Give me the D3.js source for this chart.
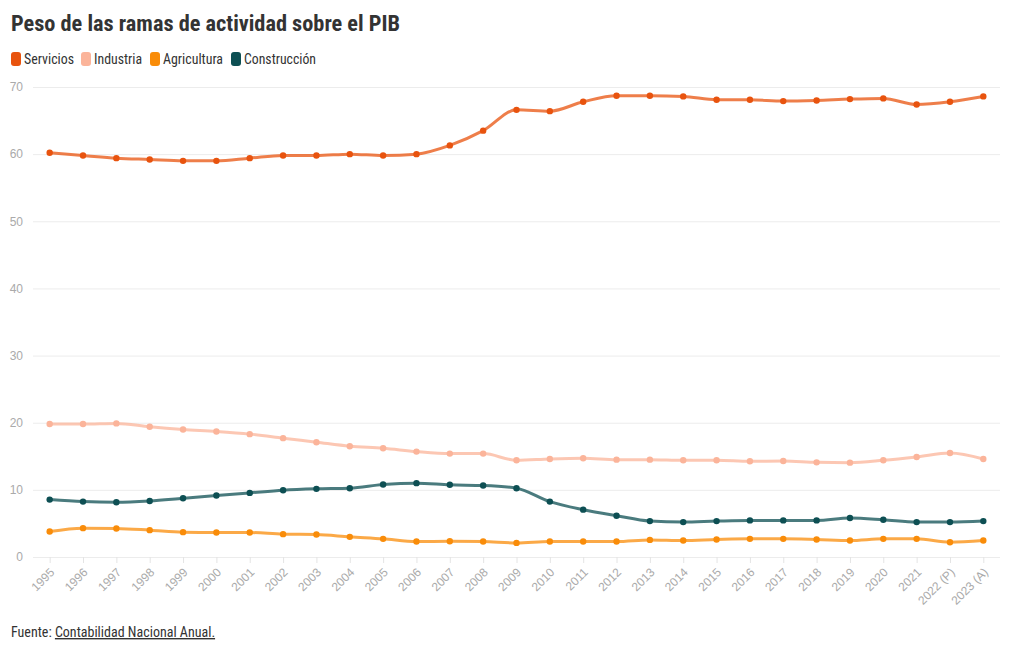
<!DOCTYPE html>
<html><head><meta charset="utf-8">
<script src="https://cdn.jsdelivr.net/npm/d3@7"></script>
<style>
body{margin:0;background:#fff;}
svg{font-family:"Roboto Condensed","Liberation Sans Narrow","Roboto",sans-serif;}
</style></head>
<body><svg id="c" width="1020" height="650"></svg>
<script>
const years = ["1995","1996","1997","1998","1999","2000","2001","2002","2003","2004","2005","2006","2007","2008","2009","2010","2011","2012","2013","2014","2015","2016","2017","2018","2019","2020","2021","2022 (P)","2023 (A)"];
const servicios = [60.2,59.8,59.4,59.2,59.0,59.0,59.4,59.8,59.8,60.0,59.8,60.0,61.3,63.5,66.6,66.4,67.8,68.7,68.7,68.6,68.1,68.1,67.9,68.0,68.2,68.3,67.4,67.8,68.6];
const industria = [19.8,19.8,19.9,19.4,19.0,18.7,18.3,17.7,17.1,16.5,16.2,15.7,15.4,15.4,14.4,14.6,14.7,14.5,14.5,14.4,14.4,14.25,14.3,14.1,14.05,14.4,14.9,15.5,14.6];
const agricultura = [3.8,4.3,4.25,4.0,3.7,3.65,3.65,3.4,3.35,3.0,2.7,2.3,2.35,2.3,2.1,2.3,2.3,2.3,2.55,2.45,2.6,2.7,2.7,2.6,2.45,2.7,2.7,2.2,2.45];
const construccion = [8.55,8.25,8.15,8.35,8.75,9.15,9.55,9.95,10.15,10.25,10.8,11.0,10.75,10.65,10.25,8.25,7.05,6.15,5.35,5.2,5.35,5.45,5.45,5.45,5.8,5.55,5.2,5.2,5.35];
const seriesNames = ["Servicios","Industria","Agricultura","Construcción"];
const seriesColors = ["#e8530e","#fbb49a","#f98c09","#0d4f53"];
const yTicks = [0,10,20,30,40,50,60,70];

const series = [servicios, industria, agricultura, construccion].map((v,i)=>({name:seriesNames[i], color:seriesColors[i], values:v}));

const svg = d3.select("#c");
const x = d3.scalePoint().domain(years).range([33,1000]).padding(0.5);
const y = d3.scaleLinear().domain([0,70]).range([557,87]);

// title
svg.append("text").attr("x",11).attr("y",31).attr("font-size",22).attr("font-weight",700).attr("fill","#333")
  .attr("textLength",389).attr("lengthAdjust","spacingAndGlyphs")
  .text("Peso de las ramas de actividad sobre el PIB");

// legend
const legX = [11,81,150,231];
const legW = [50,48,60,72];
series.forEach((s,i)=>{
  svg.append("rect").attr("x",legX[i]).attr("y",52).attr("width",10).attr("height",14).attr("rx",3).attr("fill",s.color);
  svg.append("text").attr("x",legX[i]+13).attr("y",64).attr("font-size",14).attr("fill","#333")
    .attr("textLength",legW[i]).attr("lengthAdjust","spacingAndGlyphs").text(s.name);
});

// y grid
const yAxis = svg.append("g").attr("transform","translate(33,0)")
  .call(d3.axisLeft(y).tickValues(yTicks).tickSize(-967).tickPadding(10));
yAxis.select(".domain").remove();
yAxis.selectAll(".tick line").attr("stroke","#ececec");
yAxis.selectAll(".tick text").attr("fill","#aaa").attr("font-size",12).attr("font-family","inherit");

// x axis
const xAxis = svg.append("g").attr("transform","translate(0,557)")
  .call(d3.axisBottom(x).tickSize(6).tickPadding(4));
xAxis.select(".domain").remove();
xAxis.selectAll(".tick line").attr("stroke","#e4e4e4");
xAxis.selectAll(".tick text").attr("fill","#aaa").attr("font-size",12).attr("font-family","inherit")
  .attr("text-anchor","end").attr("x",0).attr("y",0).attr("dy",0)
  .attr("transform","translate(5,16) rotate(-45)");

// lines
const line = d3.line().x((d,i)=>x(years[i])).y(d=>y(d)).curve(d3.curveMonotoneX);
[series[1],series[2],series[3],series[0]].forEach(s=>{
  const g = svg.append("g");
  g.append("path").datum(s.values).attr("d",line).attr("fill","none").attr("stroke",s.color)
    .attr("stroke-width",3).attr("stroke-opacity",0.75).attr("stroke-linejoin","round");
  g.selectAll("circle").data(s.values).join("circle")
    .attr("cx",(d,i)=>x(years[i])).attr("cy",d=>y(d)).attr("r",3.2).attr("fill",s.color);
});

// footer
const f = svg.append("text").attr("x",11).attr("y",637).attr("font-size",14).attr("fill","#333");
f.append("tspan").text("Fuente: ");
f.append("tspan").attr("text-decoration","underline").text("Contabilidad Nacional Anual.");
</script></body></html>
